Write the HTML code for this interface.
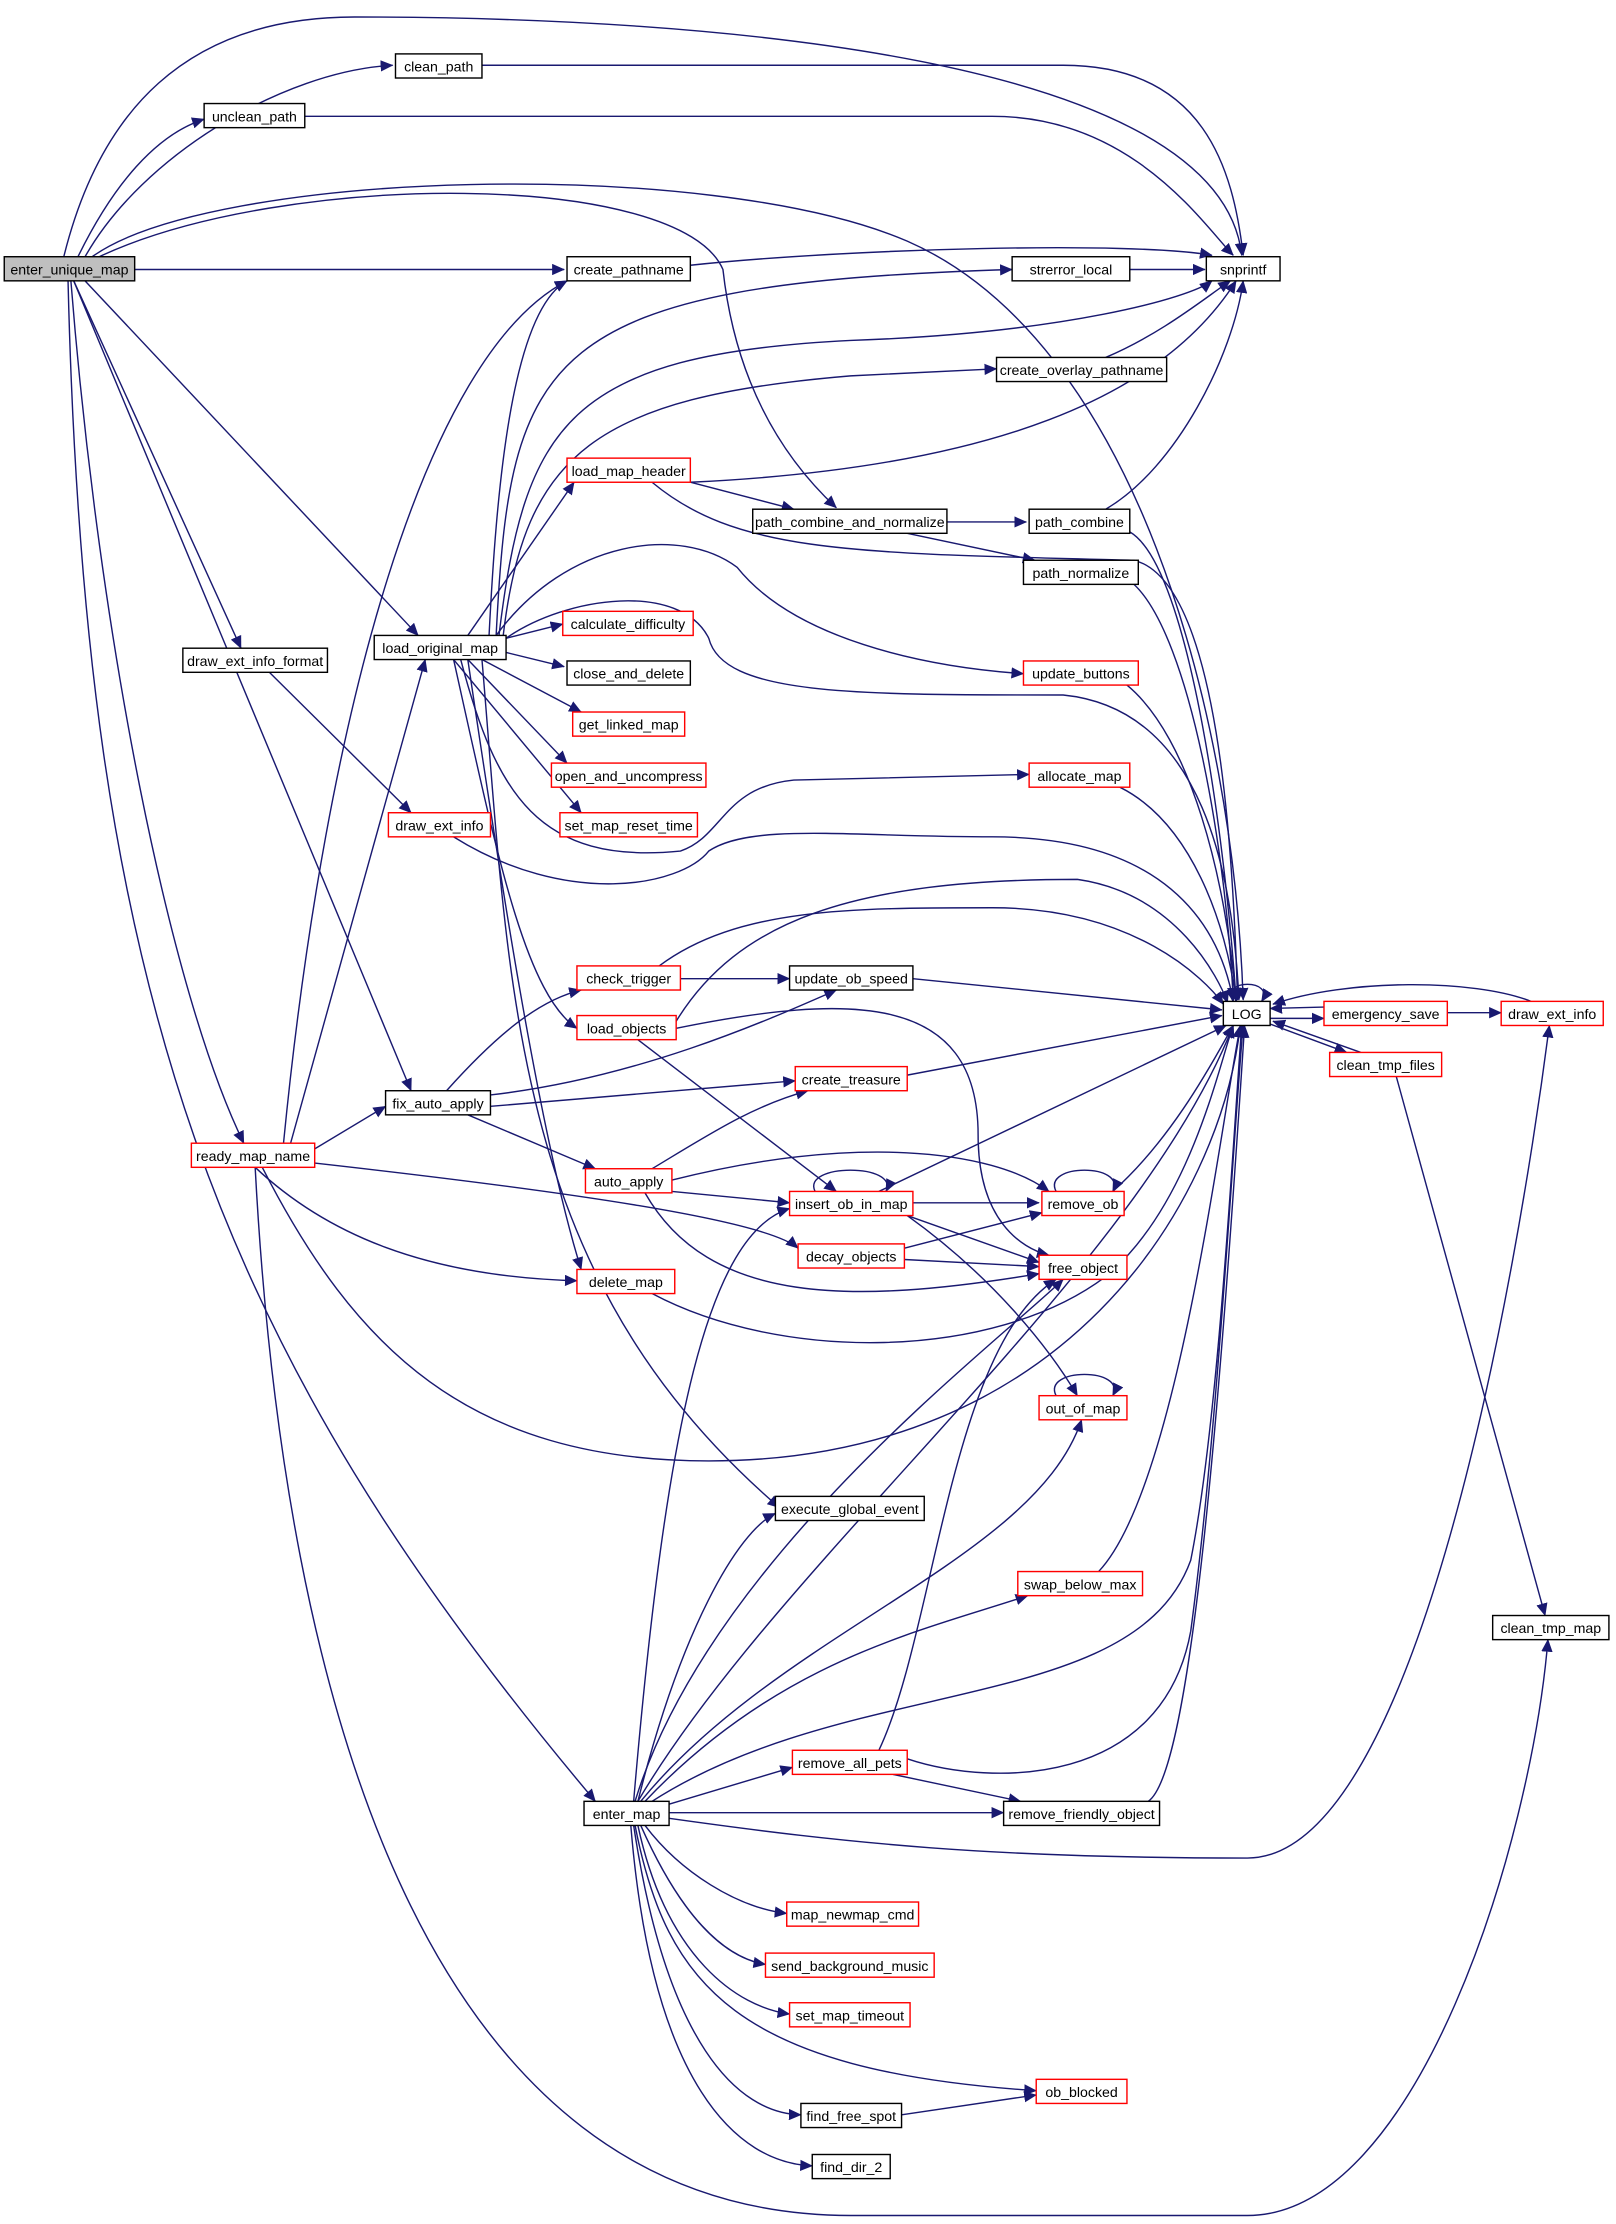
<!DOCTYPE html>
<html><head><meta charset="utf-8"><style>
html,body{margin:0;padding:0;background:#fff;}
svg{display:block;}
text{font-family:"Liberation Sans",sans-serif;font-size:10px;fill:#000;}
</style></head><body>
<svg width="1616" height="2224" viewBox="0 0 1140 1568" preserveAspectRatio="none" xmlns="http://www.w3.org/2000/svg">
<defs><marker id="a" markerWidth="9" markerHeight="8" refX="8.5" refY="4" orient="auto" markerUnits="userSpaceOnUse"><path d="M0,0 L9,4 L0,8 z" fill="#191970"/></marker></defs>
<g fill="none" stroke="#191970" stroke-width="1" marker-end="url(#a)">
<path d="M60,181 C100,110 200,50 277,46"/>
<path d="M45,181 C70,80 130,12 250,12 C500,12 860,40 876,180"/>
<path d="M55,181 C80,130 110,95 144,84"/>
<path d="M95,190 L398,190"/>
<path d="M65,181 C150,120 500,110 640,170 C800,240 870,500 877,705"/>
<path d="M70,181 C200,120 480,120 510,190 C520,280 560,330 590,358"/>
<path d="M52,198 L170,457"/>
<path d="M60,198 L295,448"/>
<path d="M52,198 L290,769"/>
<path d="M50,198 C70,450 120,700 172,806"/>
<path d="M48,198 C60,700 150,950 420,1270"/>
<path d="M340,46 L750,46 C850,46 870,120 877,180"/>
<path d="M215,82 L700,82 C800,82 850,160 870,180"/>
<path d="M487,187 C600,175 800,170 855,180"/>
<path d="M797,190 L850,190"/>
<path d="M780,252 C820,235 850,210 868,198"/>
<path d="M487,340 C700,330 820,280 872,198"/>
<path d="M487,340 L560,359"/>
<path d="M460,340 C520,390 600,390 800,395 C860,410 870,600 873,705"/>
<path d="M668,368 L724,368"/>
<path d="M640,376 L730,395"/>
<path d="M780,359 C830,330 870,250 877,198"/>
<path d="M797,375 C840,400 865,600 872,705"/>
<path d="M800,412 C840,450 865,600 870,705"/>
<path d="M345,448 C350,350 360,220 400,198"/>
<path d="M350,448 C360,250 380,200 714,190"/>
<path d="M352,448 C370,300 400,250 600,240 C750,235 840,210 855,198"/>
<path d="M355,448 C370,320 420,280 600,265 L703,260"/>
<path d="M330,448 L405,340"/>
<path d="M357,450 L397,440"/>
<path d="M357,460 L398,470"/>
<path d="M340,465 L410,502"/>
<path d="M330,465 L400,538"/>
<path d="M320,465 L410,573"/>
<path d="M350,448 C400,380 480,370 520,400 C560,450 650,470 722,475"/>
<path d="M357,450 C400,420 480,410 500,450 C510,490 600,490 750,490 C850,500 870,620 874,705"/>
<path d="M325,465 C350,560 380,610 480,600 C510,590 510,555 560,550 L726,546"/>
<path d="M320,465 C350,600 370,700 407,725"/>
<path d="M330,465 C350,600 380,800 410,895"/>
<path d="M340,465 C360,700 360,900 550,1063"/>
<path d="M190,474 L290,573"/>
<path d="M320,590 C400,640 480,625 500,600 C530,580 600,590 700,590 C820,590 860,650 870,706"/>
<path d="M480,690 L557,690"/>
<path d="M465,681 C520,640 600,640 700,640 C800,640 850,690 863,708"/>
<path d="M477,720 C520,650 600,620 760,620 C830,630 860,690 866,707"/>
<path d="M477,725 C600,700 690,700 690,800 C690,860 720,880 740,885"/>
<path d="M450,733 L590,840"/>
<path d="M644,690 L862,712"/>
<path d="M315,769 C350,730 380,705 410,698"/>
<path d="M346,772 C450,760 540,720 590,698"/>
<path d="M346,780 L561,762"/>
<path d="M330,786 L420,824"/>
<path d="M640,758 L862,716"/>
<path d="M222,810 L272,780"/>
<path d="M200,806 C230,500 300,250 400,198"/>
<path d="M205,806 L300,465"/>
<path d="M222,820 C400,840 540,860 563,880"/>
<path d="M180,823 C230,870 300,900 407,903"/>
<path d="M185,823 C250,950 330,1030 500,1030 C750,1030 860,850 875,723"/>
<path d="M180,823 C200,1200 300,1562 600,1562 L880,1562 C1000,1562 1080,1300 1092,1156"/>
<path d="M460,824 C500,800 530,780 570,769"/>
<path d="M474,840 L557,848"/>
<path d="M474,832 C600,800 700,810 740,840"/>
<path d="M455,841 C500,920 600,920 733,898"/>
<path d="M575,840 C565,820 635,820 625,840"/>
<path d="M620,840 L865,723"/>
<path d="M644,848 L733,848"/>
<path d="M640,857 L733,890"/>
<path d="M640,857 C700,900 740,950 760,984"/>
<path d="M745,840 C735,820 795,820 785,840"/>
<path d="M785,840 C830,800 860,740 870,723"/>
<path d="M638,880 L735,855"/>
<path d="M638,888 L733,893"/>
<path d="M460,912 C550,960 700,960 780,900 C840,850 860,750 870,723"/>
<path d="M745,984 C735,964 795,964 785,984"/>
<path d="M775,1108 C830,1050 860,800 875,723"/>
<path d="M985,759 L1090,1139"/>
<path d="M870,706 C860,690 900,690 890,706"/>
<path d="M934,710 L896,711"/>
<path d="M896,718 L934,718"/>
<path d="M896,722 L950,742"/>
<path d="M1080,706 C1040,690 950,690 898,708"/>
<path d="M960,742 L898,720"/>
<path d="M1021,714 L1059,714"/>
<path d="M447,1270 C470,1000 500,870 557,852"/>
<path d="M448,1270 C500,1100 700,950 750,902"/>
<path d="M450,1270 C550,1100 800,900 870,723"/>
<path d="M450,1270 C480,1150 520,1080 547,1067"/>
<path d="M452,1270 C550,1150 730,1100 763,1001"/>
<path d="M455,1270 C550,1170 650,1150 725,1125"/>
<path d="M460,1270 C600,1180 800,1210 840,1100 C860,1000 870,800 876,723"/>
<path d="M472,1272 L559,1246"/>
<path d="M472,1278 L708,1278"/>
<path d="M472,1282 C600,1300 700,1310 880,1310 C1000,1310 1070,900 1093,723"/>
<path d="M455,1287 C480,1320 520,1345 555,1349"/>
<path d="M452,1287 C480,1350 510,1380 540,1385"/>
<path d="M450,1287 C470,1380 520,1415 557,1420"/>
<path d="M448,1287 C470,1400 520,1460 731,1474"/>
<path d="M447,1287 C470,1440 520,1490 565,1491"/>
<path d="M445,1287 C460,1470 520,1525 573,1527"/>
<path d="M620,1234 C660,1150 670,950 745,902"/>
<path d="M640,1240 C700,1260 820,1260 840,1150 C860,1000 870,800 877,723"/>
<path d="M630,1251 L720,1270"/>
<path d="M810,1270 C840,1250 860,1000 878,723"/>
<path d="M636,1491 L731,1477"/>
<path d="M790,555 C840,580 865,650 872,706"/>
<path d="M795,483 C840,520 865,620 872,706"/>
</g>
<g stroke-width="1" text-anchor="middle">
<rect x="3" y="181" width="92" height="17" fill="#bfbfbf" stroke="#000"/><text x="49" y="193.5">enter_unique_map</text>
<rect x="279" y="38" width="61" height="17" fill="#fff" stroke="#000"/><text x="309.5" y="50.5">clean_path</text>
<rect x="144" y="73" width="71" height="17" fill="#fff" stroke="#000"/><text x="179.5" y="85.5">unclean_path</text>
<rect x="400" y="181" width="87" height="17" fill="#fff" stroke="#000"/><text x="443.5" y="193.5">create_pathname</text>
<rect x="851" y="181" width="52" height="17" fill="#fff" stroke="#000"/><text x="877" y="193.5">snprintf</text>
<rect x="714" y="181" width="83" height="17" fill="#fff" stroke="#000"/><text x="755.5" y="193.5">strerror_local</text>
<rect x="703" y="252" width="120" height="17" fill="#fff" stroke="#000"/><text x="763" y="264.5">create_overlay_pathname</text>
<rect x="400" y="323" width="87" height="17" fill="#fff" stroke="#f00"/><text x="443.5" y="335.5">load_map_header</text>
<rect x="531" y="359" width="137" height="17" fill="#fff" stroke="#000"/><text x="599.5" y="371.5">path_combine_and_normalize</text>
<rect x="726" y="359" width="71" height="17" fill="#fff" stroke="#000"/><text x="761.5" y="371.5">path_combine</text>
<rect x="722" y="395" width="81" height="17" fill="#fff" stroke="#000"/><text x="762.5" y="407.5">path_normalize</text>
<rect x="264" y="448" width="93" height="17" fill="#fff" stroke="#000"/><text x="310.5" y="460.5">load_original_map</text>
<rect x="129" y="457" width="102" height="17" fill="#fff" stroke="#000"/><text x="180" y="469.5">draw_ext_info_format</text>
<rect x="397" y="431" width="92" height="17" fill="#fff" stroke="#f00"/><text x="443" y="443.5">calculate_difficulty</text>
<rect x="400" y="466" width="87" height="17" fill="#fff" stroke="#000"/><text x="443.5" y="478.5">close_and_delete</text>
<rect x="404" y="502" width="79" height="17" fill="#fff" stroke="#f00"/><text x="443.5" y="514.5">get_linked_map</text>
<rect x="389" y="538" width="109" height="17" fill="#fff" stroke="#f00"/><text x="443.5" y="550.5">open_and_uncompress</text>
<rect x="395" y="573" width="97" height="17" fill="#fff" stroke="#f00"/><text x="443.5" y="585.5">set_map_reset_time</text>
<rect x="722" y="466" width="81" height="17" fill="#fff" stroke="#f00"/><text x="762.5" y="478.5">update_buttons</text>
<rect x="726" y="538" width="71" height="17" fill="#fff" stroke="#f00"/><text x="761.5" y="550.5">allocate_map</text>
<rect x="274" y="573" width="72" height="17" fill="#fff" stroke="#f00"/><text x="310" y="585.5">draw_ext_info</text>
<rect x="407" y="681" width="73" height="17" fill="#fff" stroke="#f00"/><text x="443.5" y="693.5">check_trigger</text>
<rect x="557" y="681" width="87" height="17" fill="#fff" stroke="#000"/><text x="600.5" y="693.5">update_ob_speed</text>
<rect x="407" y="716" width="70" height="17" fill="#fff" stroke="#f00"/><text x="442" y="728.5">load_objects</text>
<rect x="863" y="706" width="33" height="17" fill="#fff" stroke="#000"/><text x="879.5" y="718.5">LOG</text>
<rect x="934" y="706" width="87" height="17" fill="#fff" stroke="#f00"/><text x="977.5" y="718.5">emergency_save</text>
<rect x="1059" y="706" width="72" height="17" fill="#fff" stroke="#f00"/><text x="1095" y="718.5">draw_ext_info</text>
<rect x="938" y="742" width="79" height="17" fill="#fff" stroke="#f00"/><text x="977.5" y="754.5">clean_tmp_files</text>
<rect x="272" y="769" width="74" height="17" fill="#fff" stroke="#000"/><text x="309" y="781.5">fix_auto_apply</text>
<rect x="561" y="752" width="79" height="17" fill="#fff" stroke="#f00"/><text x="600.5" y="764.5">create_treasure</text>
<rect x="135" y="806" width="87" height="17" fill="#fff" stroke="#f00"/><text x="178.5" y="818.5">ready_map_name</text>
<rect x="413" y="824" width="61" height="17" fill="#fff" stroke="#f00"/><text x="443.5" y="836.5">auto_apply</text>
<rect x="557" y="840" width="87" height="17" fill="#fff" stroke="#f00"/><text x="600.5" y="852.5">insert_ob_in_map</text>
<rect x="735" y="840" width="58" height="17" fill="#fff" stroke="#f00"/><text x="764" y="852.5">remove_ob</text>
<rect x="563" y="877" width="75" height="17" fill="#fff" stroke="#f00"/><text x="600.5" y="889.5">decay_objects</text>
<rect x="733" y="885" width="62" height="17" fill="#fff" stroke="#f00"/><text x="764" y="897.5">free_object</text>
<rect x="407" y="895" width="69" height="17" fill="#fff" stroke="#f00"/><text x="441.5" y="907.5">delete_map</text>
<rect x="733" y="984" width="62" height="17" fill="#fff" stroke="#f00"/><text x="764" y="996.5">out_of_map</text>
<rect x="547" y="1055" width="105" height="17" fill="#fff" stroke="#000"/><text x="599.5" y="1067.5">execute_global_event</text>
<rect x="718" y="1108" width="88" height="17" fill="#fff" stroke="#f00"/><text x="762" y="1120.5">swap_below_max</text>
<rect x="1053" y="1139" width="82" height="17" fill="#fff" stroke="#000"/><text x="1094" y="1151.5">clean_tmp_map</text>
<rect x="412" y="1270" width="60" height="17" fill="#fff" stroke="#000"/><text x="442" y="1282.5">enter_map</text>
<rect x="559" y="1234" width="81" height="17" fill="#fff" stroke="#f00"/><text x="599.5" y="1246.5">remove_all_pets</text>
<rect x="708" y="1270" width="110" height="17" fill="#fff" stroke="#000"/><text x="763" y="1282.5">remove_friendly_object</text>
<rect x="555" y="1341" width="93" height="17" fill="#fff" stroke="#f00"/><text x="601.5" y="1353.5">map_newmap_cmd</text>
<rect x="540" y="1377" width="119" height="17" fill="#fff" stroke="#f00"/><text x="599.5" y="1389.5">send_background_music</text>
<rect x="557" y="1412" width="85" height="17" fill="#fff" stroke="#f00"/><text x="599.5" y="1424.5">set_map_timeout</text>
<rect x="731" y="1466" width="64" height="17" fill="#fff" stroke="#f00"/><text x="763" y="1478.5">ob_blocked</text>
<rect x="565" y="1483" width="71" height="17" fill="#fff" stroke="#000"/><text x="600.5" y="1495.5">find_free_spot</text>
<rect x="573" y="1519" width="55" height="17" fill="#fff" stroke="#000"/><text x="600.5" y="1531.5">find_dir_2</text>
</g>
</svg>
</body></html>
